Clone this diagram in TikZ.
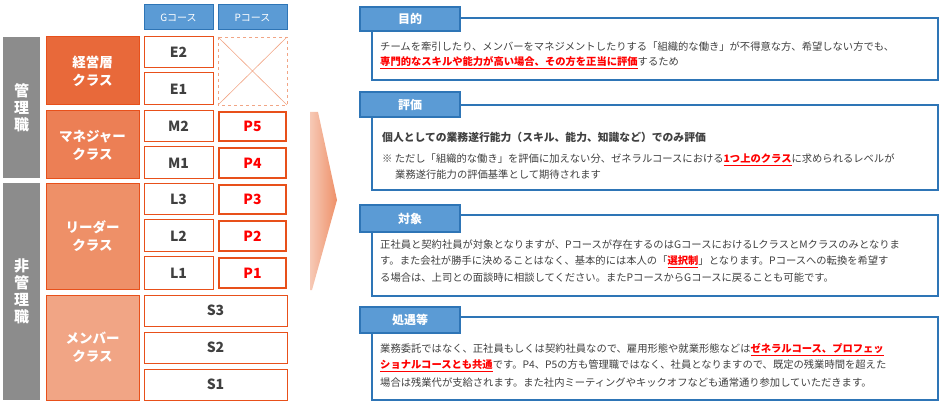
\documentclass[tikz,border=0pt]{standalone}
\usepackage{fontspec}
\setmainfont{Noto Sans CJK JP}
\usetikzlibrary{shadings}
\definecolor{obd}{HTML}{E8501A}
\definecolor{c1}{HTML}{E8693A}
\definecolor{c2}{HTML}{EC7F55}
\definecolor{c3}{HTML}{EE9068}
\definecolor{c4}{HTML}{F1A585}
\definecolor{gry}{HTML}{8C8C8C}
\definecolor{bfill}{HTML}{5B9BD5}
\definecolor{bbd}{HTML}{2E75B6}
\definecolor{txt}{HTML}{404040}
\definecolor{rd}{HTML}{FF0000}
\newcommand{\hl}[1]{\textcolor{rd}{\bfseries\underline{#1}}}
\begin{document}
\begin{tikzpicture}[x=1pt,y=-1pt,
 gbox/.style={draw=obd,line width=1pt,fill=white,font=\bfseries\fontsize{14}{14}\selectfont,text=txt},
 pbox/.style={draw=obd,line width=2pt,fill=white,font=\bfseries\fontsize{14}{14}\selectfont,text=rd},
 cls/.style={draw=obd,line width=1pt,text=white,font=\bfseries\fontsize{13.5}{18}\selectfont,align=center},
 side/.style={fill=gry,text=white,font=\bfseries\fontsize{15}{17}\selectfont,align=center},
 hdr/.style={draw=bbd,line width=1pt,fill=bfill,text=white,font=\fontsize{10}{10}\selectfont},
 tab/.style={draw=bbd,line width=1.3pt,fill=bfill,text=white,font=\bfseries\fontsize{12}{12}\selectfont},
 panel/.style={draw=bbd,line width=1.3pt,fill=white},
 ln/.style={anchor=west,inner sep=0pt,text=txt,font=\fontsize{10.3}{10}\selectfont}]
\useasboundingbox (0,0) rectangle (940,406);
% left
\path[side] (3,37) rectangle (40,178) node[midway] (kan) {管\\理\\職};
\path[side] (3,183) rectangle (40,400) node[midway] (hikan) {非\\管\\理\\職};
\path[cls,fill=c1] (46,37) rectangle (139,105) node[midway] (k1) {経営層\\クラス};
\path[cls,fill=c2] (46,111) rectangle (139,179) node[midway] (k2) {マネジャー\\クラス};
\path[cls,fill=c3] (46,184) rectangle (139,289) node[midway] (k3) {リーダー\\クラス};
\path[cls,fill=c4] (46,295) rectangle (139,400) node[midway] (k4) {メンバー\\クラス};
\path[hdr] (144,5) rectangle (213,30) node[midway] (hg) {Gコース};
\path[hdr] (218,5) rectangle (287,30) node[midway] (hp) {Pコース};
\path[gbox] (144,37) rectangle (213,68) node[midway] (e2) {E2};
\path[gbox] (144,73) rectangle (213,105) node[midway] (e1) {E1};
\path[gbox] (144,111) rectangle (213,142) node[midway] (m2) {M2};
\path[gbox] (144,147) rectangle (213,179) node[midway] (m1) {M1};
\path[gbox] (144,184) rectangle (213,215) node[midway] (l3) {L3};
\path[gbox] (144,220) rectangle (213,252) node[midway] (l2) {L2};
\path[gbox] (144,257) rectangle (213,289) node[midway] (l1) {L1};
\path[pbox] (219,112) rectangle (286,141) node[midway] (p5) {P5};
\path[pbox] (219,148) rectangle (286,178) node[midway] (p4) {P4};
\path[pbox] (219,185) rectangle (286,214) node[midway] (p3) {P3};
\path[pbox] (219,221) rectangle (286,251) node[midway] (p2) {P2};
\path[pbox] (219,258) rectangle (286,288) node[midway] (p1) {P1};
\path[gbox] (144,295) rectangle (287,326) node[midway] (s3) {S3};
\path[gbox] (144,332) rectangle (287,363) node[midway] (s2) {S2};
\path[gbox] (144,369) rectangle (287,400) node[midway] (s1) {S1};
\draw[draw=c4,dashed,line width=0.8pt] (218,37) rectangle (287,105);
\draw[c4,line width=0.6pt] (218,37) -- (287,105) (218,105) -- (287,37);
% arrow
\shade[left color=c4!60,right color=c3] (310,112) -- (318,112) -- (337,200) -- (312,290) -- (310,290) -- cycle;
% panels
\draw[panel] (372,18) rectangle (938,80);
\path[tab] (360,7) rectangle (460,31) node[midway] (t1) {目的};
\node[ln] (a1) at (380,47) {チームを牽引したり、メンバーをマネジメントしたりする「組織的な働き」が不得意な方、希望しない方でも、};
\node[ln] (a2) at (380,63) {\hl{専門的なスキルや能力が高い場合、その方を正当に評価}するため};
\draw[panel] (372,105) rectangle (938,190);
\path[tab] (360,92) rectangle (460,117) node[midway] (t2) {評価};
\node[ln,font=\bfseries\fontsize{10.8}{10}\selectfont] (b1) at (382,137) {個人としての業務遂行能力（スキル、能力、知識など）でのみ評価};
\node[ln] (b2) at (382,160) {※ ただし「組織的な働き」を評価に加えない分、ゼネラルコースにおける\hl{1つ上のクラス}に求められるレベルが};
\node[ln] (b3) at (395,175) {業務遂行能力の評価基準として期待されます};
\draw[panel] (372,215) rectangle (938,296);
\path[tab] (360,205) rectangle (460,232) node[midway] (t3) {対象};
\node[ln] (c1) at (380,245) {正社員と契約社員が対象となりますが、Pコースが存在するのはGコースにおけるLクラスとMクラスのみとなりま};
\node[ln] (c2) at (380,262) {す。また会社が勝手に決めることはなく、基本的には本人の「\hl{選択制}」となります。Pコースへの転換を希望す};
\node[ln] (c3) at (380,278) {る場合は、上司との面談時に相談してください。またPコースからGコースに戻ることも可能です。};
\draw[panel] (372,317) rectangle (938,400);
\path[tab] (360,307) rectangle (460,333) node[midway] (t4) {処遇等};
\node[ln] (d1) at (380,350) {業務委託ではなく、正社員もしくは契約社員なので、雇用形態や就業形態などは\hl{ゼネラルコース、プロフェッ}};
\node[ln] (d2) at (380,366) {\hl{ショナルコースとも共通}です。P4、P5の方も管理職ではなく、社員となりますので、既定の残業時間を超えた};
\node[ln] (d3) at (380,383) {場合は残業代が支給されます。また社内ミーティングやキックオフなども通常通り参加していただきます。};
\end{tikzpicture}
\end{document}
